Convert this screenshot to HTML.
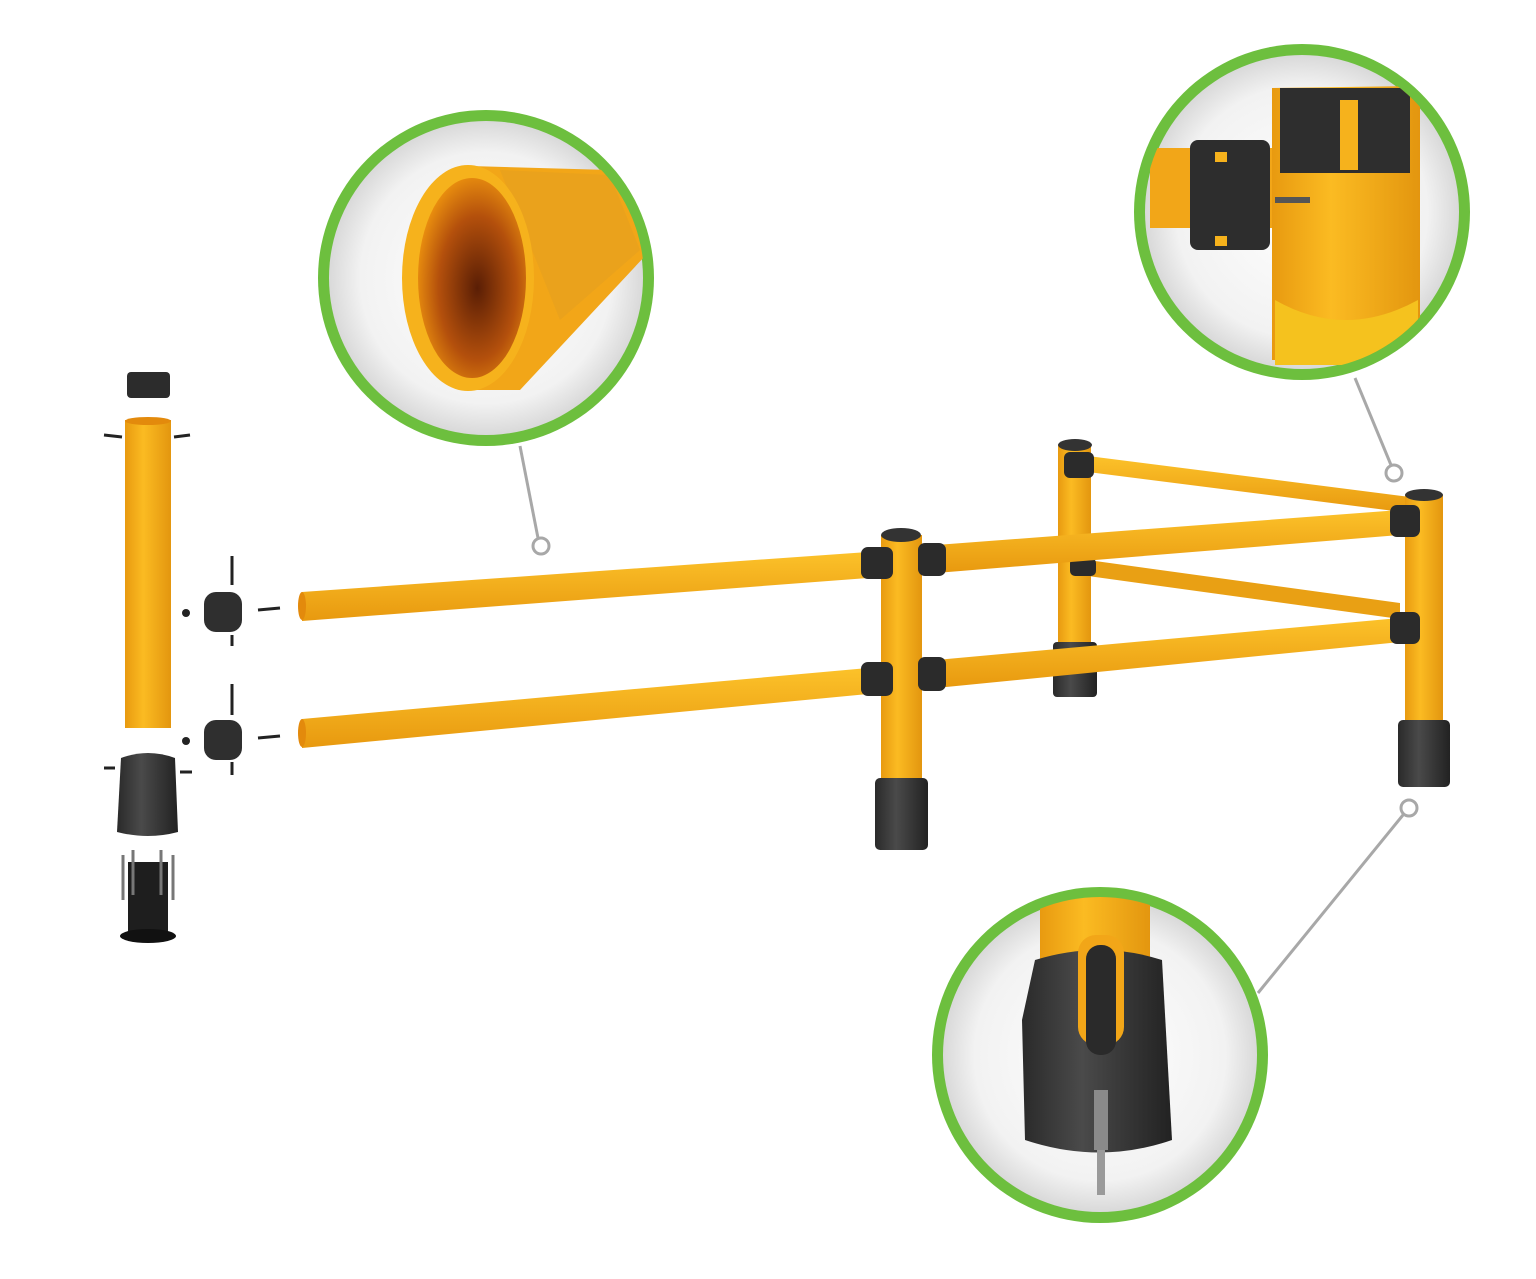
<!DOCTYPE html>
<html><head><meta charset="utf-8"><style>
html,body{margin:0;padding:0;background:#fff;}
svg{display:block;}
</style></head><body>
<svg width="1536" height="1279" viewBox="0 0 1536 1279" xmlns="http://www.w3.org/2000/svg">
<defs>
<radialGradient id="bg" cx="50%" cy="50%" r="50%">
<stop offset="0" stop-color="#ffffff"/><stop offset="0.8" stop-color="#f2f2f2"/><stop offset="1" stop-color="#d9d9d9"/>
</radialGradient>
<linearGradient id="yv" x1="0" x2="1" y1="0" y2="0">
<stop offset="0" stop-color="#e89a10"/><stop offset="0.4" stop-color="#fbbb22"/><stop offset="1" stop-color="#e3960f"/>
</linearGradient>
<linearGradient id="yh" x1="0" x2="0" y1="0" y2="1">
<stop offset="0" stop-color="#fcc22a"/><stop offset="1" stop-color="#e8990f"/>
</linearGradient>
<linearGradient id="bk" x1="0" x2="1">
<stop offset="0" stop-color="#2a2a2a"/><stop offset="0.4" stop-color="#4a4a4a"/><stop offset="1" stop-color="#222"/>
</linearGradient>
<radialGradient id="inner" cx="55%" cy="55%" r="60%">
<stop offset="0" stop-color="#5a1e05"/><stop offset="0.6" stop-color="#b4500c"/><stop offset="1" stop-color="#f0960f"/>
</radialGradient>
<clipPath id="c1"><circle cx="486" cy="278" r="158"/></clipPath>
<clipPath id="c2"><circle cx="1302" cy="212" r="158"/></clipPath>
<clipPath id="c3"><circle cx="1100" cy="1055" r="158"/></clipPath>
</defs>

<!-- connector lines -->
<g stroke="#a8a8a8" stroke-width="3" fill="none">
<line x1="520" y1="446" x2="538" y2="538"/>
<circle cx="541" cy="546" r="8" fill="#fff"/>
<line x1="1355" y1="378" x2="1391" y2="465"/>
<circle cx="1394" cy="473" r="8" fill="#fff"/>
<line x1="1258" y1="993" x2="1403" y2="815"/>
<circle cx="1409" cy="808" r="8" fill="#fff"/>
</g>

<!-- back rails -->
<polygon points="1088,456 1410,497 1410,513 1088,472" fill="url(#yh)"/>
<polygon points="1088,560 1400,603 1400,619 1088,576" fill="#e9a014"/>
<!-- back post -->
<rect x="1058" y="445" width="33" height="200" fill="url(#yv)"/>
<ellipse cx="1075" cy="445" rx="17" ry="6" fill="#333"/>
<rect x="1053" y="642" width="44" height="55" rx="4" fill="url(#bk)"/>
<rect x="1064" y="452" width="30" height="26" rx="6" fill="#2b2b2b"/>
<rect x="1070" y="558" width="26" height="18" rx="5" fill="#2b2b2b"/>

<!-- right rails -->
<polygon points="936,545 1400,510 1400,535 936,573" fill="url(#yh)"/>
<polygon points="936,660 1400,618 1400,642 936,688" fill="url(#yh)"/>
<!-- left rails -->
<polygon points="302,592 868,552 868,578 302,621" fill="url(#yh)"/>
<ellipse cx="302" cy="606" rx="4" ry="14" fill="#e38a0c"/>
<polygon points="302,719 868,668 868,694 302,748" fill="url(#yh)"/>
<ellipse cx="302" cy="733" rx="4" ry="14" fill="#e38a0c"/>

<!-- front middle post -->
<rect x="881" y="535" width="41" height="250" fill="url(#yv)"/>
<ellipse cx="901" cy="535" rx="20" ry="7" fill="#333"/>
<rect x="875" y="778" width="53" height="72" rx="5" fill="url(#bk)"/>
<rect x="861" y="547" width="32" height="32" rx="7" fill="#2b2b2b"/>
<rect x="918" y="543" width="28" height="33" rx="7" fill="#2b2b2b"/>
<rect x="861" y="662" width="32" height="34" rx="7" fill="#2b2b2b"/>
<rect x="918" y="657" width="28" height="34" rx="7" fill="#2b2b2b"/>

<!-- right post -->
<rect x="1405" y="495" width="38" height="232" fill="url(#yv)"/>
<ellipse cx="1424" cy="495" rx="19" ry="6" fill="#333"/>
<rect x="1398" y="720" width="52" height="67" rx="5" fill="url(#bk)"/>
<rect x="1390" y="505" width="30" height="32" rx="7" fill="#2b2b2b"/>
<rect x="1390" y="612" width="30" height="32" rx="7" fill="#2b2b2b"/>

<!-- left exploded parts -->
<rect x="127" y="372" width="43" height="26" rx="4" fill="#2c2c2c"/>
<rect x="125" y="420" width="46" height="308" fill="url(#yv)"/>
<ellipse cx="148" cy="421" rx="23" ry="4" fill="#e38a0c"/>
<g stroke="#222" stroke-width="3">
<line x1="104" y1="435" x2="122" y2="437"/><line x1="174" y1="437" x2="190" y2="435"/>
<line x1="104" y1="768" x2="115" y2="768"/><line x1="180" y1="772" x2="192" y2="772"/>
<line x1="232" y1="556" x2="232" y2="585"/><line x1="232" y1="635" x2="232" y2="646"/>
<line x1="258" y1="610" x2="280" y2="608"/>
<line x1="232" y1="684" x2="232" y2="715"/><line x1="232" y1="762" x2="232" y2="775"/>
<line x1="258" y1="738" x2="280" y2="736"/>
</g>
<circle cx="186" cy="613" r="4" fill="#222"/><circle cx="186" cy="741" r="4" fill="#222"/>
<rect x="204" y="592" width="38" height="40" rx="12" fill="#2f2f2f"/>
<rect x="204" y="720" width="38" height="40" rx="12" fill="#2f2f2f"/>
<path d="M121,758 Q148,748 175,758 L178,832 Q148,840 117,832 Z" fill="url(#bk)"/>
<rect x="128" y="862" width="40" height="70" fill="#1e1e1e"/>
<ellipse cx="148" cy="936" rx="28" ry="7" fill="#111"/>
<g stroke="#777" stroke-width="3"><line x1="123" y1="855" x2="123" y2="900"/><line x1="133" y1="850" x2="133" y2="895"/><line x1="161" y1="850" x2="161" y2="895"/><line x1="173" y1="855" x2="173" y2="900"/></g>

<!-- circle 1 -->
<circle cx="486" cy="278" r="168" fill="#6dbf3e"/>
<circle cx="486" cy="278" r="157" fill="url(#bg)"/>
<g clip-path="url(#c1)">
<polygon points="470,166 610,170 660,240 520,390 470,390" fill="#f2a618"/>
<polygon points="500,170 610,175 640,250 560,320" fill="#e5a020" opacity="0.6"/>
<ellipse cx="468" cy="278" rx="66" ry="113" fill="#f6b21c"/>
<ellipse cx="472" cy="278" rx="54" ry="100" fill="url(#inner)"/>
</g>

<!-- circle 2 -->
<circle cx="1302" cy="212" r="168" fill="#6dbf3e"/>
<circle cx="1302" cy="212" r="157" fill="url(#bg)"/>
<g clip-path="url(#c2)">
<rect x="1150" y="148" width="130" height="80" fill="#f2a618"/>
<rect x="1190" y="140" width="80" height="110" rx="8" fill="#2d2d2d"/>
<rect x="1215" y="152" width="12" height="10" fill="#f6b21c"/><rect x="1215" y="236" width="12" height="10" fill="#f6b21c"/>
<path d="M1272,88 L1420,86 L1420,360 L1272,360 Z" fill="url(#yv)"/>
<rect x="1280" y="88" width="130" height="85" fill="#2e2e2e"/>
<rect x="1340" y="100" width="18" height="70" fill="#f6b21c"/>
<line x1="1275" y1="200" x2="1310" y2="200" stroke="#555" stroke-width="6"/>
<path d="M1275,300 Q1345,340 1418,300 L1418,365 L1275,365 Z" fill="#f5c21e"/>
</g>

<!-- circle 3 -->
<circle cx="1100" cy="1055" r="168" fill="#6dbf3e"/>
<circle cx="1100" cy="1055" r="157" fill="url(#bg)"/>
<g clip-path="url(#c3)">
<rect x="1040" y="890" width="110" height="110" fill="url(#yv)"/>
<path d="M1035,960 Q1100,940 1162,960 L1172,1140 Q1100,1165 1025,1140 L1022,1020 Z" fill="url(#bk)"/>
<rect x="1078" y="935" width="46" height="110" rx="18" fill="#f2a618"/>
<rect x="1086" y="945" width="30" height="110" rx="14" fill="#2a2a2a"/>
<rect x="1094" y="1090" width="14" height="60" fill="#8a8a8a"/>
<rect x="1097" y="1150" width="8" height="45" fill="#9a9a9a"/>
</g>
</svg>
</body></html>
